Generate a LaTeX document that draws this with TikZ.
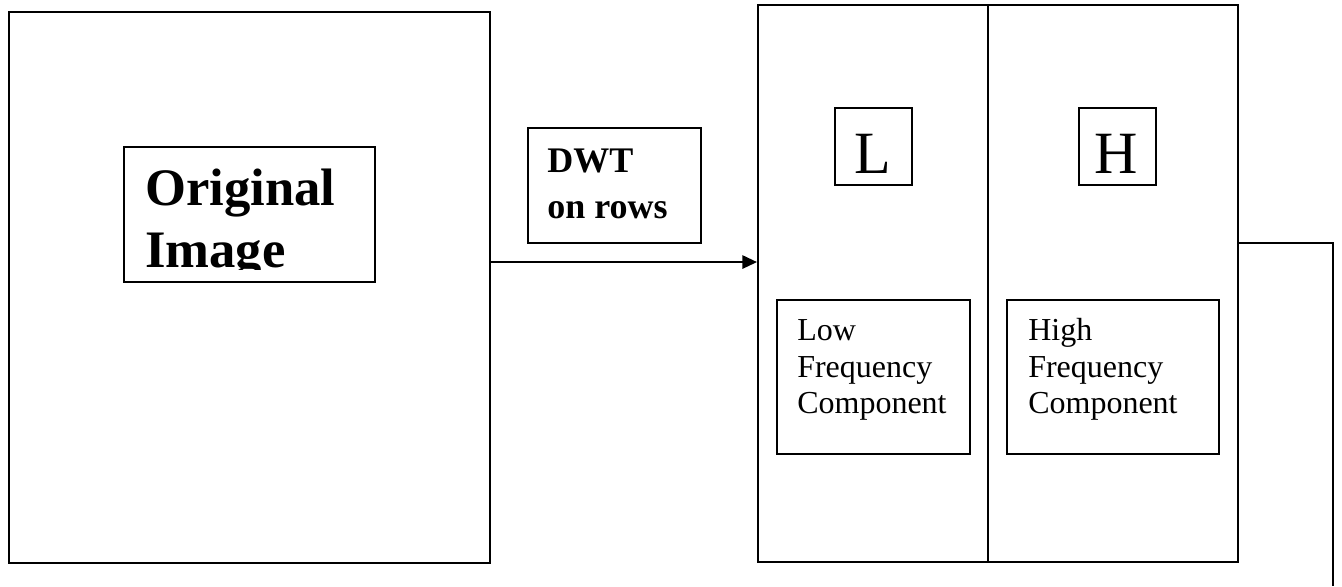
\documentclass[tikz,border=0pt]{standalone}
\usepackage{fontspec}
\setmainfont{Liberation Serif}
\usetikzlibrary{arrows.meta}
\begin{document}
\begin{tikzpicture}[x=0.75pt,y=-0.75pt,
  box/.style={draw, line width=1.5pt, rectangle, inner sep=0pt, anchor=north west},
  txt/.style={inner sep=0pt, anchor=base west},
  conn/.style={line width=1.5pt},
  bigbold/.style={font=\fontsize{39.5}{46.5}\selectfont\bfseries},
  midbold/.style={font=\fontsize{27}{34.5}\selectfont\bfseries},
  letter/.style={font=\fontsize{45}{50}\selectfont},
  comp/.style={font=\fontsize{24}{27.4}\selectfont}]
\useasboundingbox (0,0) rectangle (1342,586);
% left: original image
\node[box, minimum width=360.75pt, minimum height=413.25pt] (orig) at (8,11) {};
\node[box, minimum width=188.25pt, minimum height=101.25pt] (origlab) at (123,146) {};
\begin{scope}
  \clip (123,146) rectangle (374,269);
  \node[txt, bigbold] (t1) at (145,205) {Original};
  \node[txt, bigbold] (t2) at (145,267) {Image};
\end{scope}
% DWT label
\node[box, minimum width=129.75pt, minimum height=86.25pt] (dwt) at (527,127) {};
\node[txt, midbold] (d1) at (547,172) {DWT};
\node[txt, midbold] (d2) at (547,218) {on rows};
% right panel
\node[box, minimum width=360pt, minimum height=417.75pt] (panel) at (757,4) {};
\coordinate (divtop) at ([xshift=-7.5pt]panel.north);
\coordinate (divbot) at ([xshift=-7.5pt]panel.south);
\draw[conn] (divtop) -- (divbot);
% L and H
\node[box, minimum width=57.75pt, minimum height=57.75pt] (lbox) at (834,107) {};
\node[inner sep=0pt, anchor=base, letter] (ltxt) at (872.5,173) {L};
\node[box, minimum width=57.75pt, minimum height=57.75pt] (hbox) at (1078,107) {};
\node[inner sep=0pt, anchor=base, letter] (htxt) at (1116.5,173) {H};
% component boxes
\node[box, minimum width=144.75pt, minimum height=115.5pt] (low) at (776,299) {};
\node[txt, comp] (l1) at (797,340) {Low};
\node[txt, comp] (l2) at (797,377) {Frequency};
\node[txt, comp] (l3) at (797,413) {Component};
\node[box, minimum width=159pt, minimum height=115.5pt] (high) at (1006,299) {};
\node[txt, comp] (h1) at (1028,340) {High};
\node[txt, comp] (h2) at (1028,377) {Frequency};
\node[txt, comp] (h3) at (1028,413) {Component};
% connectors
\coordinate (a1) at ([yshift=19.1pt]orig.east);
\draw[conn, -{Triangle[length=11pt,width=10pt]}] (a1) -- (panel.west |- a1);
\coordinate (c1) at ([yshift=30.4pt]panel.east);
\coordinate (cend) at (1333,586);
\draw[conn] (c1) -| (cend);
\end{tikzpicture}
\end{document}
